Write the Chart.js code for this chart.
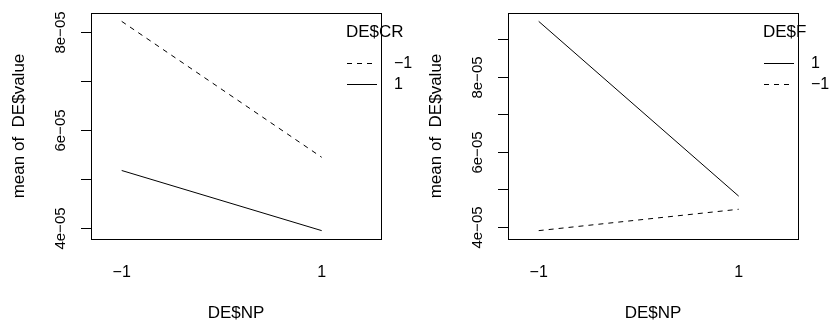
<!DOCTYPE html>
<html lang="en">
<head>
    <meta charset="UTF-8">
    <title>Interaction plots</title>
    <script src="https://cdn.jsdelivr.net/npm/chart.js@4.4.1/dist/chart.umd.min.js"></script>
    <style>
        body { margin: 0; background: #fff; }
        .wrap { display: flex; width: 834px; height: 323px; }
        .wrap div { width: 417px; height: 323px; position: relative; }
    </style>
</head>
<body>
    <div class="wrap">
        <div><canvas id="left"></canvas></div>
        <div><canvas id="right"></canvas></div>
    </div>
    <script>
        // factor levels on the x axis
        const npLevels = [-1, 1];
        const npLabels = ['\u22121', '1'];

        // mean of DE$value by DE$NP, traced by DE$CR
        const crLevels = ['\u22121', '1'];
        const crMinus = [8.22e-5, 5.44e-5];
        const crPlus = [5.17e-5, 3.94e-5];

        // mean of DE$value by DE$NP, traced by DE$F
        const fLevels = ['1', '\u22121'];
        const fPlus = [9.48e-5, 4.82e-5];
        const fMinus = [3.90e-5, 4.47e-5];

        const leftTicks = [4e-5, 5e-5, 6e-5, 7e-5, 8e-5];
        const rightTicks = [4e-5, 5e-5, 6e-5, 7e-5, 8e-5, 9e-5];
        const tickText = { 4: '4e\u221205', 6: '6e\u221205', 8: '8e\u221205' };

        const FONT = '"Liberation Sans", Arial, sans-serif';

        function yRange(series) {
            const all = [].concat(...series);
            const lo = Math.min(...all), hi = Math.max(...all);
            const pad = (hi - lo) * 0.04;
            return { min: lo - pad, max: hi + pad };
        }

        // R-style frame, axes, labels and legend
        const basePlot = {
            id: 'basePlot',
            afterDraw(chart, args, opts) {
                const ctx = chart.ctx;
                const a = chart.chartArea;
                const xs = chart.scales.x, ys = chart.scales.y;
                ctx.save();
                ctx.strokeStyle = '#000';
                ctx.fillStyle = '#000';
                ctx.lineWidth = 1;
                ctx.setLineDash([]);

                // frame
                ctx.strokeRect(Math.round(a.left) + 0.5, Math.round(a.top) + 0.5,
                    Math.round(a.width), Math.round(a.height));

                // y axis ticks
                const yPix = opts.ticks.map(v => Math.round(ys.getPixelForValue(v)) + 0.5);
                ctx.beginPath();
                ctx.moveTo(a.left + 0.5, yPix[0]);
                ctx.lineTo(a.left + 0.5, yPix[yPix.length - 1]);
                yPix.forEach(p => { ctx.moveTo(a.left - 10, p); ctx.lineTo(a.left + 0.5, p); });
                ctx.stroke();

                ctx.font = '15px ' + FONT;
                ctx.textAlign = 'center';
                ctx.textBaseline = 'middle';
                opts.ticks.forEach((v, i) => {
                    const key = Math.round(v * 1e5);
                    if (!tickText[key]) return;
                    ctx.save();
                    ctx.translate(61, yPix[i]);
                    ctx.rotate(-Math.PI / 2);
                    ctx.fillText(tickText[key], 0, 0);
                    ctx.restore();
                });

                // x tick labels
                ctx.font = '16px ' + FONT;
                npLevels.forEach((v, i) => {
                    ctx.fillText(npLabels[i], xs.getPixelForValue(v), 273);
                });

                // axis titles
                ctx.font = '17px ' + FONT;
                ctx.fillText('DE$NP', (a.left + a.right) / 2, 313);
                ctx.save();
                ctx.translate(19, (a.top + a.bottom) / 2);
                ctx.rotate(-Math.PI / 2);
                ctx.fillText('mean of  DE$value', 0, 0);
                ctx.restore();

                // legend
                const lx = a.right - 34;
                ctx.textAlign = 'left';
                ctx.font = '17px ' + FONT;
                ctx.fillText(opts.title, lx - 1, 32);
                ctx.font = '16px ' + FONT;
                opts.items.forEach((it, i) => {
                    const y = Math.round(63 + i * 21) + 0.5;
                    ctx.setLineDash(it.dash);
                    ctx.beginPath();
                    ctx.moveTo(lx, y);
                    ctx.lineTo(lx + 30, y);
                    ctx.stroke();
                    ctx.fillText(it.label, lx + 47, y);
                });
                ctx.restore();
            }
        };

        function makeChart(id, series, dashes, levels, title, ticks) {
            const r = yRange(series);
            return new Chart(document.getElementById(id), {
                type: 'line',
                data: {
                    datasets: series.map((s, i) => ({
                        label: levels[i],
                        data: s.map((v, j) => ({ x: npLevels[j], y: v })),
                        borderColor: '#000',
                        borderWidth: 1,
                        borderDash: dashes[i],
                        pointRadius: 0,
                        fill: false,
                        tension: 0
                    }))
                },
                options: {
                    responsive: false,
                    animation: false,
                    layout: { padding: { left: 91, right: 36, top: 13, bottom: 84 } },
                    scales: {
                        x: { type: 'linear', min: -1.307, max: 1.593, display: false },
                        y: { type: 'linear', min: r.min, max: r.max, display: false }
                    },
                    plugins: {
                        legend: { display: false },
                        tooltip: { enabled: false },
                        basePlot: {
                            title: title,
                            ticks: ticks,
                            items: levels.map((l, i) => ({ label: l, dash: dashes[i] }))
                        }
                    }
                },
                plugins: [basePlot]
            });
        }

        document.getElementById('left').width = 417;
        document.getElementById('left').height = 323;
        document.getElementById('right').width = 417;
        document.getElementById('right').height = 323;

        makeChart('left', [crMinus, crPlus], [[5, 5], []], crLevels, 'DE$CR', leftTicks);
        makeChart('right', [fPlus, fMinus], [[], [5, 5]], fLevels, 'DE$F', rightTicks);
    </script>
</body>
</html>
